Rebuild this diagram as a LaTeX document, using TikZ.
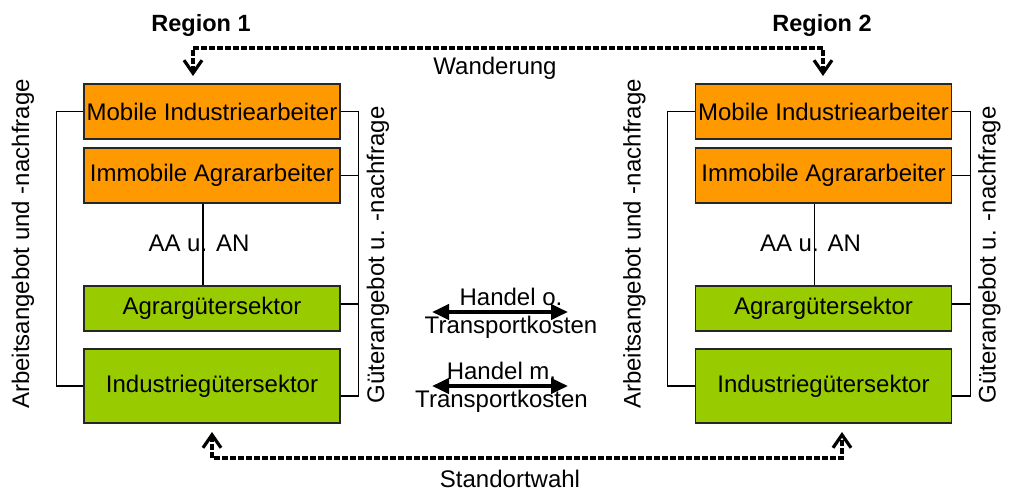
\documentclass[tikz,border=0pt]{standalone}
\usepackage{fontspec}
\setmainfont{Liberation Sans}
\usetikzlibrary{arrows.meta,calc}
\definecolor{labourorange}{HTML}{FF9900}
\definecolor{goodsgreen}{HTML}{99CC00}
\begin{document}
\begin{tikzpicture}[x=1pt,y=-1pt,
  every node/.style={inner sep=0pt, font=\fontsize{24}{28}\selectfont},
  sector/.style={draw=black!85, line width=1.4pt, minimum width=256pt, anchor=center},
  labour/.style={sector, fill=labourorange},
  goods/.style={sector, fill=goodsgreen},
  link/.style={line width=1.3pt},
  flow/.style={line width=3.2pt, dash pattern=on 5.3pt off 2.7pt,
    arrows={Straight Barb[length=13pt,width=18pt]-Straight Barb[length=13pt,width=18pt]}},
  trade/.style={line width=4pt,
    arrows={Triangle[length=17pt,width=15pt]-Triangle[length=17pt,width=15pt]}},
  title/.style={anchor=base, font=\bfseries\fontsize{23.5}{28}\selectfont},
]
\path[fill=white] (0,0) rectangle (1011,492);
\useasboundingbox (0,0) rectangle (1011,492);

% the two regions, each with its labour and goods sectors
\foreach \r/\cx in {1/212, 2/823.5} {
  \node[labour, minimum height=55pt] (mob\r) at (\cx,111.5) {Mobile Industriearbeiter};
  \node[labour, minimum height=55pt] (imm\r) at (\cx,175.5) {Immobile Agrararbeiter};
  \node[goods, minimum height=45pt] (agr\r) at (\cx,308.5) {Agrargütersektor};
  \node[goods, minimum height=74pt] (ind\r) at (\cx,386) {Industriegütersektor};

  % labour market bracket on the left
  \draw[link] (mob\r.west) -- ++(-27,0) |- (ind\r.west);
  % goods market bracket on the right
  \draw[link] (mob\r.east) -- ++(18,0) |- ($(ind\r.east)+(0,10)$);
  \draw[link] (imm\r.east) -- ++(18,0);
  \draw[link] ($(agr\r.east)+(0,-4.5)$) -- ++(18,0);

  % farm labour supply and demand
  \draw[link] ([xshift=-9pt]imm\r.south) -- ([xshift=-9pt]agr\r.north);
  \node[anchor=base] (aa\r) at (\cx-13,251) {AA u. AN};

  \node[rotate=90] (arb\r) at (\cx-189,244) {Arbeitsangebot und -nachfrage};
  \node[rotate=90] (gut\r) at (\cx+166,255) {Güterangebot u. -nachfrage};
}

\node[title] (reg1) at (201,32) {Region 1};
\node[title] (reg2) at (822,32) {Region 2};

% migration of mobile workers
\coordinate (w1) at (193,76);
\coordinate (w2) at (823,76);
\draw[flow] (w1) -- ++(0,-28) -| (w2);
\node[anchor=base] (wand) at (495,75) {Wanderung};

% choice of location of industry
\coordinate (s1) at (212,432);
\coordinate (s2) at (842,432);
\draw[flow] (s1) -- ++(0,26) -| (s2);
\node[anchor=base] (stand) at (510,487) {Standortwahl};

% trade between the regions
\coordinate (t1) at (432,312);
\coordinate (t2) at (568,312);
\coordinate (t3) at (432,386);
\coordinate (t4) at (568,386);
\draw[trade] (t1) -- (t2);
\draw[trade] (t3) -- (t4);
\node[align=center] (ho) at (511,313.5) {Handel o.\\Transportkosten};
\node[align=center] (hm) at (501.5,387) {Handel m.\\Transportkosten};
\end{tikzpicture}
\end{document}
